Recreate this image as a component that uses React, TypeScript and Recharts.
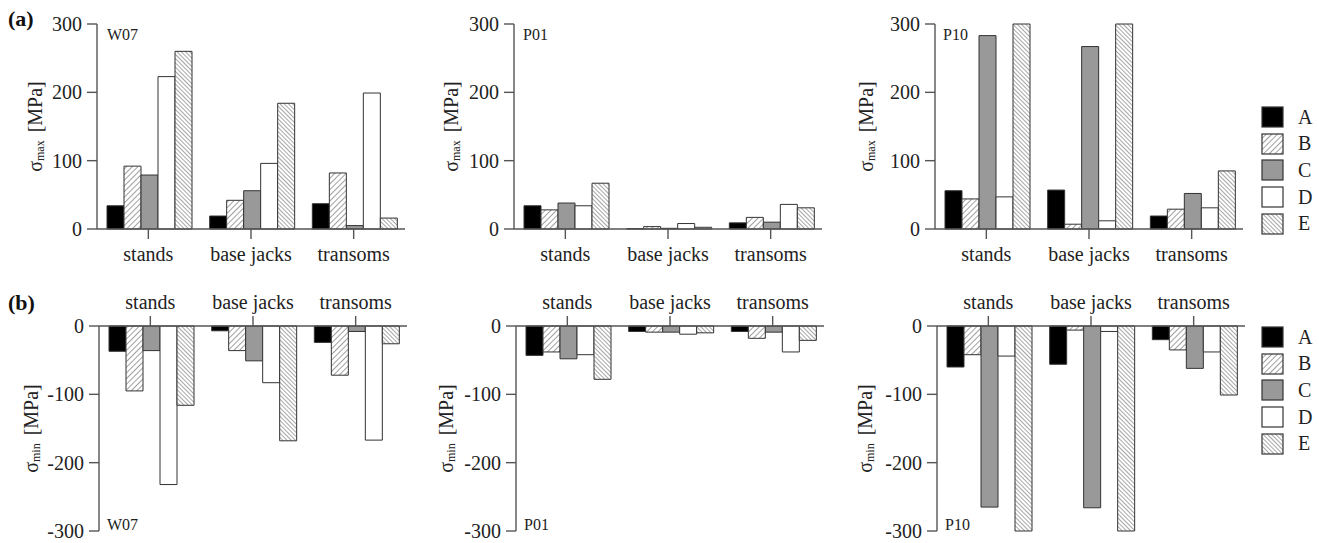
import { BarChart, Bar, XAxis, YAxis, Legend, Label } from "recharts"

const categories = ["stands", "base jacks", "transoms"]
const seriesNames = ["A", "B", "C", "D", "E"]
const ticksMax = [0, 100, 200, 300]
const ticksMin = [-300, -200, -100, 0]

// rows follow categories, columns follow seriesNames
const w07Max = [[34, 92, 79, 223, 260], [19, 42, 56, 96, 184], [37, 82, 5, 199, 16]]
const p01Max = [[34, 28, 38, 34, 67], [0.5, 3.5, 1, 8, 2.5], [9, 17, 10, 36, 31]]
const p10Max = [[56, 44, 283, 47, 300], [57, 7, 267, 12, 300], [19, 29, 52, 31, 85]]
const w07Min = [[-37, -95, -36, -232, -116], [-7, -36, -51, -83, -168], [-24, -72, -8, -167, -26]]
const p01Min = [[-43, -38, -48, -42, -78], [-8, -9, -9, -12, -10], [-8, -18, -9, -38, -21]]
const p10Min = [[-60, -42, -265, -44, -300], [-56, -6, -266, -8, -300], [-20, -35, -62, -38, -101]]

const FILLS = ["#000", "url(#hatchB)", "#999", "#fff", "url(#hatchE)"]
const FONT = "Liberation Serif, Times New Roman, DejaVu Serif, serif"
const AXIS = "#555"
const YW = 90

const toRows = (values: number[][]) =>
  categories.map((cat, i) => {
    const row: any = { cat }
    seriesNames.forEach((s, j) => (row[s] = values[i][j]))
    return row
  })

const yLabel = (sub: string, dist: number) => (props: any) => {
  const vb = props.viewBox
  const cx = vb.x + vb.width - dist
  const cy = vb.y + vb.height / 2
  return (
    <text
      x={cx}
      y={cy}
      transform={`rotate(-90 ${cx} ${cy})`}
      textAnchor="middle"
      dominantBaseline="central"
      style={{ fontFamily: FONT }}
      fontSize={20}
      fill="#222"
    >
      <tspan>σ</tspan>
      <tspan fontSize={12} dy={5}>{sub}</tspan>
      <tspan dy={-5} dx={8}>[MPa]</tspan>
    </text>
  )
}

const renderLegend = (props: any) => (
  <div>
    {(props.payload || []).map((e: any) => (
      <div key={e.value} style={{ display: "flex", alignItems: "center", height: 26.6 }}>
        <svg width={23} height={22}>
          <rect x={1} y={1} width={21} height={20} fill={e.color} stroke="#333" strokeWidth={1.2} />
        </svg>
        <span style={{ marginLeft: 14, fontFamily: FONT, fontSize: 20, color: "#222" }}>{e.value}</span>
      </div>
    ))}
  </div>
)

function Panel({ values, kind, left, top, width, labelDist, legend }: any) {
  const isMax = kind === "max"
  const data = toRows(values)
  const tick = { fontSize: 20, fill: "#222", style: { fontFamily: FONT } }
  const right = width - YW - 308
  return (
    <div style={{ position: "absolute", left, top }}>
      <BarChart
        width={width}
        height={isMax ? 255 : 257}
        data={data}
        margin={isMax ? { top: 10, right, bottom: 0, left: 0 } : { top: 0, right, bottom: 12, left: 0 }}
        barCategoryGap={10}
        barGap={0}
      >
        <XAxis
          dataKey="cat"
          orientation={isMax ? "bottom" : "top"}
          height={40}
          interval={0}
          tickSize={10}
          tickMargin={isMax ? 8 : 7}
          tick={tick}
          axisLine={{ stroke: AXIS, strokeWidth: 1.4 }}
          tickLine={{ stroke: AXIS, strokeWidth: 1.4 }}
        />
        <YAxis
          type="number"
          width={YW}
          domain={isMax ? [0, 300] : [-300, 0]}
          ticks={isMax ? ticksMax : ticksMin}
          interval={0}
          tickSize={10}
          tickMargin={5}
          tick={tick}
          axisLine={{ stroke: AXIS, strokeWidth: 1.4 }}
          tickLine={{ stroke: AXIS, strokeWidth: 1.4 }}
        >
          <Label content={yLabel(isMax ? "max" : "min", labelDist)} />
        </YAxis>
        {seriesNames.map((s, i) => (
          <Bar key={s} dataKey={s} fill={FILLS[i]} stroke="#333" strokeWidth={1} isAnimationActive={false} />
        ))}
        {legend && (
          <Legend
            layout="vertical"
            align="center"
            verticalAlign="middle"
            content={renderLegend}
            wrapperStyle={{ left: 1261 - left, top: isMax ? 90 : 38, width: 58, height: 140 }}
          />
        )}
      </BarChart>
    </div>
  )
}

export default function App() {
  const note = { fontSize: 16, fill: "#222", style: { fontFamily: FONT } }
  const bold = { fontSize: 22, fontWeight: "bold", fill: "#111", style: { fontFamily: FONT } }
  return (
    <div style={{ position: "absolute", left: 0, top: 0, width: 1319, height: 543, background: "#fff" }}>
      <svg width={0} height={0} style={{ position: "absolute" }}>
        <defs>
          <pattern id="hatchB" width={4} height={4} patternUnits="userSpaceOnUse" patternTransform="rotate(45)">
            <rect width={4} height={4} fill="#fff" />
            <line x1={0} y1={0} x2={0} y2={4} stroke="#777" strokeWidth={1.4} />
          </pattern>
          <pattern id="hatchE" width={3} height={3} patternUnits="userSpaceOnUse" patternTransform="rotate(-45)">
            <rect width={3} height={3} fill="#fff" />
            <line x1={0} y1={0} x2={0} y2={3} stroke="#777" strokeWidth={1.3} />
          </pattern>
        </defs>
      </svg>

      <Panel values={w07Max} kind="max" left={97 - YW} top={14} width={403} labelDist={62} />
      <Panel values={p01Max} kind="max" left={514 - YW} top={14} width={403} labelDist={63} />
      <Panel values={p10Max} kind="max" left={935 - YW} top={14} width={1319 - 935 + YW} labelDist={69} legend />
      <Panel values={w07Min} kind="min" left={99 - YW} top={286} width={403} labelDist={68} />
      <Panel values={p01Min} kind="min" left={516 - YW} top={286} width={403} labelDist={70} />
      <Panel values={p10Min} kind="min" left={937 - YW} top={286} width={1319 - 937 + YW} labelDist={72} legend />

      <svg width={1319} height={543} style={{ position: "absolute", left: 0, top: 0, pointerEvents: "none" }}>
        <text x={8} y={26} {...bold}>(a)</text>
        <text x={8} y={310} {...bold}>(b)</text>
        <text x={107} y={40} {...note}>W07</text>
        <text x={523} y={40} {...note}>P01</text>
        <text x={943} y={40} {...note}>P10</text>
        <text x={107} y={530} {...note}>W07</text>
        <text x={524} y={530} {...note}>P01</text>
        <text x={945} y={530} {...note}>P10</text>
      </svg>
    </div>
  )
}
